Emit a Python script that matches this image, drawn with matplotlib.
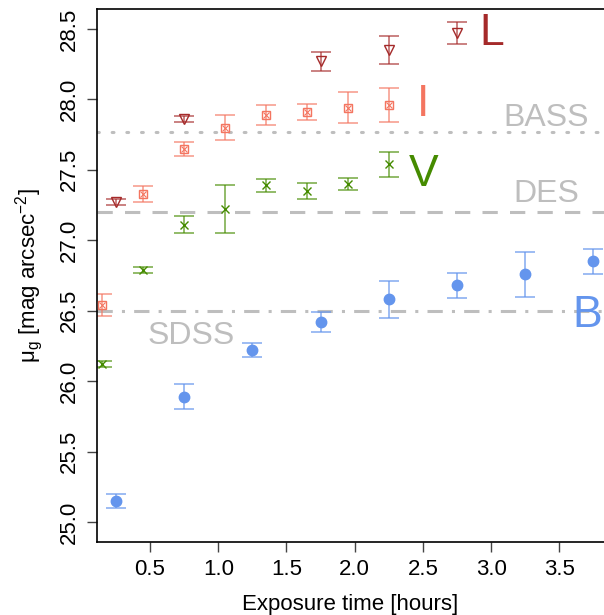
import matplotlib
matplotlib.use("Agg")
import matplotlib.pyplot as plt

plt.rcParams['font.family'] = ['Liberation Sans', 'DejaVu Sans']
plt.rcParams['mathtext.default'] = 'regular'

# B band
b_x = [0.25, 0.75, 1.25, 1.75, 2.25, 2.75, 3.25, 3.75]
b_y = [25.15, 25.89, 26.22, 26.42, 26.58, 26.68, 26.76, 26.85]
b_e = [0.05, 0.09, 0.05, 0.07, 0.13, 0.09, 0.16, 0.09]
# V band
v_x = [0.15, 0.45, 0.75, 1.05, 1.35, 1.65, 1.95, 2.25]
v_y = [26.12, 26.79, 27.11, 27.22, 27.39, 27.35, 27.40, 27.54]
v_e = [0.02, 0.02, 0.06, 0.17, 0.045, 0.06, 0.04, 0.09]
# I band
i_x = [0.15, 0.45, 0.75, 1.05, 1.35, 1.65, 1.95, 2.25]
i_y = [26.54, 27.33, 27.65, 27.80, 27.89, 27.91, 27.94, 27.96]
i_e = [0.08, 0.055, 0.05, 0.09, 0.07, 0.055, 0.11, 0.12]
# L band
l_x = [0.25, 0.75, 1.75, 2.25, 2.75]
l_y = [27.27, 27.86, 28.27, 28.35, 28.47]
l_e = [0.02, 0.02, 0.07, 0.10, 0.08]

surveys = ['BASS', 'DES', 'SDSS']
survey_lim = [27.77, 27.20, 26.50]

x_ticks = [0.5, 1.0, 1.5, 2.0, 2.5, 3.0, 3.5]
y_ticks = [25.0, 25.5, 26.0, 26.5, 27.0, 27.5, 28.0, 28.5]

c_b = '#6495ED'
c_v = '#458B00'
c_i = '#F47560'
c_l = '#A52A2A'
gray = '#BEBEBE'

fig = plt.figure(figsize=(6.04, 6.15), dpi=100)
ax = fig.add_axes([0.1606, 0.1187, 0.8394, 0.8667])
ax.set_xlim(0.111, 3.828)
ax.set_ylim(24.858, 28.642)

# survey limit lines
ax.axhline(survey_lim[0], color=gray, lw=2.2, ls=(0, (0.6, 4.2)), dash_capstyle='round', zorder=1)
ax.axhline(survey_lim[1], color=gray, lw=2.2, ls=(0, (5, 4)), zorder=1)
ax.axhline(survey_lim[2], color=gray, lw=2.2, ls=(0, (5, 3, 1, 3)), zorder=1)

eb_kw = dict(ls='none', elinewidth=1.1, capsize=7, capthick=1.1)

ax.errorbar(b_x, b_y, yerr=b_e, ecolor=c_b, fmt='none', alpha=0.8, **eb_kw)
ax.plot(b_x, b_y, 'o', color=c_b, ms=7.5, zorder=3)

ax.errorbar(v_x, v_y, yerr=v_e, ecolor=c_v, fmt='none', alpha=0.75, **eb_kw)
ax.plot(v_x, v_y, 'x', color=c_v, ms=5.5, mew=1.0, zorder=3)

ax.errorbar(i_x, i_y, yerr=i_e, ecolor=c_i, fmt='none', alpha=0.75, **eb_kw)
ax.plot(i_x, i_y, 's', mfc='none', mec=c_i, ms=6, mew=1.0, zorder=3)
ax.plot(i_x, i_y, 'x', color=c_i, ms=4, mew=0.8, zorder=3)

ax.errorbar(l_x, l_y, yerr=l_e, ecolor=c_l, fmt='none', alpha=0.75, **eb_kw)
ax.plot(l_x, l_y, 'v', mfc='none', mec=c_l, ms=7.5, mew=1.0, zorder=3)

# band labels
ax.text(3.007, 28.386, 'L', color=c_l, fontsize=32, ha='center', va='baseline')
ax.text(2.50, 27.882, 'I', color=c_i, fontsize=32, ha='center', va='baseline')
ax.text(2.505, 27.385, 'V', color=c_v, fontsize=32, ha='center', va='baseline')
ax.text(3.703, 26.384, 'B', color=c_b, fontsize=32, ha='center', va='baseline')

# survey labels
ax.text(3.403, 27.811, surveys[0], color=gray, fontsize=23, ha='center', va='baseline')
ax.text(3.403, 27.272, surveys[1], color=gray, fontsize=23, ha='center', va='baseline')
ax.text(0.804, 26.264, surveys[2], color=gray, fontsize=23, ha='center', va='baseline')

ax.set_xticks(x_ticks)
ax.set_xticklabels([f'{t:.1f}' for t in x_ticks])
ax.set_yticks(y_ticks)
ax.set_yticklabels([f'{t:.1f}' for t in y_ticks], rotation=90, va='center')
ax.tick_params(direction='out', length=7, width=1, labelsize=16, colors='#444444',
               labelcolor='black', pad=5)

ax.spines['right'].set_visible(False)
for s in ['left', 'top', 'bottom']:
    ax.spines[s].set_linewidth(1.2)

ax.set_xlabel('Exposure time [hours]', fontsize=16, labelpad=10)
ax.set_ylabel(r'$\mu_g$ [mag arcsec$^{-2}$]', fontsize=16, labelpad=10)

fig.savefig('out.png', dpi=100)
